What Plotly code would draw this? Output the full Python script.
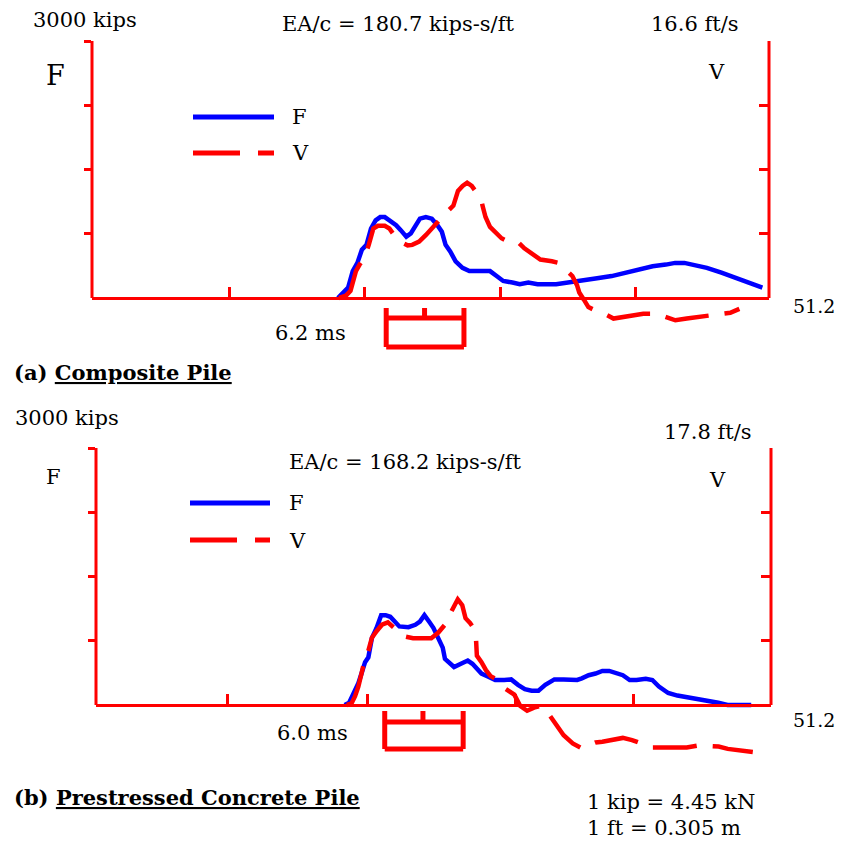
import plotly.graph_objects as go

# ---- data ----
T_END = 51.2          # ms, full time window
F_MAX = 3000          # kips, top of force scale
EAC_A = 180.7         # kips-s/ft
EAC_B = 168.2
V_MAX_A = 16.6        # ft/s, top of velocity scale
V_MAX_B = 17.8

# (a) Composite pile - force (kips)
F_A_MS = [18.6, 18.85, 19.37, 19.72, 20.07, 20.41, 20.76, 21.1, 21.45, 21.8, 22.14, 22.49, 23.0,
          23.35, 23.77, 24.11, 24.46, 24.8, 25.25, 25.7, 26.12, 26.46, 26.74, 27.09, 27.5, 28.02,
          28.54, 30.1, 30.6, 31.1, 31.8, 32.35, 33.0, 33.7, 35.1, 36.15, 37.2, 38.2, 39.3, 40.3,
          41.3, 42.4, 43.4, 44.1, 44.8, 45.5, 46.5, 47.6, 48.3, 49.1, 50.0, 50.7]
F_A_KIPS = [0, 46, 122, 314, 410, 563, 620, 811, 907, 945, 945, 907, 850, 792, 716, 754, 850,
            926, 945, 926, 850, 773, 620, 543, 429, 352, 314, 314, 256, 199, 180, 161, 180, 161,
            161, 180, 199, 230, 256, 295, 333, 371, 390, 410, 410, 390, 352, 295, 256, 199, 161, 122]

# (a) Composite pile - velocity (ft/s)
V_A_MS = [18.68, 19.2, 19.55, 19.79, 19.96, 20.24, 20.59, 20.93, 21.28, 21.63, 22.14, 22.49,
          22.84, 23.01, 23.53, 23.87, 24.22, 24.74, 25.26, 25.78, 26.3, 26.82, 27.33, 27.68,
          28.03, 28.37, 28.72, 29.06, 29.41, 29.58, 29.76, 30.1, 30.45, 30.97, 31.49, 32.18,
          32.7, 33.39, 33.91, 34.78, 35.29, 35.81, 36.33, 36.68, 36.85, 37.2, 37.54, 38.06,
          38.75, 39.44, 40.31, 41.0, 41.69, 42.73, 43.42, 44.12, 44.98, 45.85, 46.88, 47.58,
          48.27, 48.96]
V_A_FTS = [0, 0.15, 0.46, 1.10, 1.74, 2.16, 2.58, 3.43, 4.49, 4.66, 4.66, 4.49, 4.07, 3.86,
           3.54, 3.40, 3.43, 3.64, 4.07, 4.59, 5.12, 5.55, 5.97, 6.92, 7.24, 7.45, 7.24, 6.82,
           6.40, 5.81, 5.23, 4.59, 4.28, 3.86, 3.64, 3.64, 3.21, 2.79, 2.48, 2.37, 2.27, 1.84,
           1.42, 0.83, 0.36, -0.11, -0.59, -0.80, -1.02, -1.33, -1.25, -1.12, -1.02, -1.02,
           -1.23, -1.44, -1.33, -1.23, -1.12, -1.08, -0.95, -0.70]

# (b) Prestressed concrete pile - force (kips)
F_B_MS = [18.86, 19.2, 19.55, 19.9, 20.14, 20.41, 20.66, 20.93, 21.28, 21.63, 21.97, 22.32,
          22.66, 23.01, 23.7, 24.22, 24.57, 24.91, 25.26, 25.6, 25.95, 26.3, 26.47, 26.82,
          27.16, 27.68, 28.2, 28.55, 28.89, 29.24, 29.76, 30.28, 30.97, 31.49, 32.01, 32.53,
          33.04, 33.56, 34.08, 34.77, 35.47, 36.5, 36.85, 37.37, 37.89, 38.41, 38.93, 39.44,
          39.96, 40.48, 41.0, 41.7, 42.2, 42.7, 43.4, 44.1, 45.2, 46.2, 47.2, 47.9, 49.7]
F_B_KIPS = [0, 27, 140, 254, 367, 500, 557, 784, 898, 1049, 1049, 1030, 974, 917, 909, 936,
            974, 1049, 974, 898, 784, 670, 538, 481, 443, 481, 519, 481, 424, 367, 330, 292,
            292, 299, 235, 186, 167, 167, 235, 299, 299, 292, 311, 348, 367, 398, 398, 375,
            348, 292, 292, 307, 292, 216, 140, 110, 83, 64, 27, 0, 0]

# (b) Prestressed concrete pile - velocity (ft/s)
V_B_MS = [19.03, 19.38, 19.65, 19.9, 20.14, 20.31, 20.66, 20.93, 21.28, 21.69, 22.14, 22.49,
          22.84, 23.36, 24.05, 25.43, 25.95, 26.47, 26.75, 27.09, 27.44, 27.78, 28.03, 28.37,
          28.72, 28.82, 28.89, 29.24, 29.58, 29.93, 30.45, 30.97, 31.31, 31.73, 32.18, 32.7,
          33.22, 33.74, 34.08, 34.43, 34.77, 35.12, 35.47, 36.16, 36.85, 37.37, 37.89, 38.41,
          39.27, 39.96, 40.66, 41.35, 42.21, 43.25, 44.12, 44.81, 45.67, 46.54, 47.23, 47.92,
          48.96, 49.82]
V_B_FTS = [0, 0.11, 0.61, 1.28, 2.18, 2.86, 3.76, 4.66, 5.11, 5.56, 5.72, 5.45, 5.11, 4.76,
           4.62, 4.62, 5.0, 5.56, 6.12, 6.72, 7.32, 6.91, 6.01, 5.68, 5.23, 4.66, 3.42, 2.97,
           2.41, 2.0, 1.74, 1.17, 0.95, 0.72, -0.07, -0.40, -0.18, -0.07, -0.29, -0.74, -1.08,
           -1.61, -2.09, -2.66, -3.0, -2.77, -2.59, -2.54, -2.41, -2.28, -2.43, -2.66, -2.95,
           -2.95, -2.95, -2.95, -2.81, -2.81, -2.88, -3.04, -3.15, -3.26]

F_TICKS = [750, 1500, 2250, 3000]
T_TICKS_A = [10.4, 20.6, 30.9, 41.1]
T_TICKS_B = [10.0, 20.6, 31.8, 40.8]
SCALE_BAR_A = [22.25, 25.15, 28.13]   # ms (left, middle, right)
SCALE_BAR_B = [21.9, 24.8, 27.85]

# ---- styling ----
W, H = 841, 856
RED = "#FF0000"
BLUE = "#0000FF"
FONT = "DejaVu Serif"


def pxx(x):
    return x / W


def pxy(y):
    return 1 - y / H


panels = [
    dict(fx=F_A_MS, fy=F_A_KIPS, vx=V_A_MS, vy=V_A_FTS, vmax=V_MAX_A, tticks=T_TICKS_A,
         bar=SCALE_BAR_A, bar_y=(308, 318, 347),
         left=92, right=769, top=41, zero=298, bottom=352,
         xa="x", yf="y", yv="y2", leg=(193, 274, 117, 153)),
    dict(fx=F_B_MS, fy=F_B_KIPS, vx=V_B_MS, vy=V_B_FTS, vmax=V_MAX_B, tticks=T_TICKS_B,
         bar=SCALE_BAR_B, bar_y=(711, 722, 749),
         left=96, right=771, top=448, zero=705, bottom=762,
         xa="x2", yf="y3", yv="y4", leg=(190, 270, 503, 540)),
]

fig = go.Figure()
shapes = []
layout_axes = {}

for p in panels:
    fig.add_trace(go.Scatter(x=p["fx"], y=p["fy"], mode="lines", name="F",
                             line=dict(color=BLUE, width=4.5), xaxis=p["xa"], yaxis=p["yf"],
                             showlegend=False))
    fig.add_trace(go.Scatter(x=p["vx"], y=p["vy"], mode="lines", name="V",
                             line=dict(color=RED, width=4.5, dash="44px,16px"),
                             xaxis=p["xa"], yaxis=p["yv"], showlegend=False))

    kpp = F_MAX / (p["zero"] - p["top"])
    f_range = [-(p["bottom"] - p["zero"]) * kpp, F_MAX]
    v_range = [f_range[0] * p["vmax"] / F_MAX, p["vmax"]]

    xkey = "xaxis" if p["xa"] == "x" else "xaxis2"
    layout_axes[xkey] = dict(
        domain=[pxx(p["left"]), pxx(p["right"])], range=[0, T_END],
        anchor="free", position=pxy(p["zero"]),
        showline=True, linecolor=RED, linewidth=3,
        ticks="inside", tickvals=p["tticks"], ticklen=10, tickwidth=3, tickcolor=RED,
        showticklabels=False, showgrid=False, zeroline=False)
    yfkey = "yaxis" if p["yf"] == "y" else "yaxis3"
    layout_axes[yfkey] = dict(
        domain=[pxy(p["bottom"]), pxy(p["top"])], range=f_range, anchor=p["xa"],
        ticks="outside", tickvals=F_TICKS, ticklen=7, tickwidth=3, tickcolor=RED,
        showticklabels=False, showgrid=False, zeroline=False, showline=False)
    yvkey = "yaxis2" if p["yv"] == "y2" else "yaxis4"
    layout_axes[yvkey] = dict(
        overlaying=p["yf"], side="right", anchor=p["xa"], range=v_range,
        ticks="inside", tickvals=[p["vmax"] * k / 4 for k in range(1, 5)],
        ticklen=10, tickwidth=3, tickcolor=RED,
        showticklabels=False, showgrid=False, zeroline=False, showline=False)

    # left and right axis lines (only from zero up to full scale)
    for xp in (p["left"], p["right"]):
        shapes.append(dict(type="line", xref="paper", yref="paper",
                           x0=pxx(xp), x1=pxx(xp), y0=pxy(p["zero"]), y1=pxy(p["top"]),
                           line=dict(color=RED, width=3)))

    # time scale bar
    b0, bm, b1 = p["bar"]
    yt, ym, yb = (pxy(v) for v in p["bar_y"])
    bar_lines = [(b0, b0, yt, yb), (b1, b1, yt, yb), (bm, bm, yt, ym),
                 (b0, b1, ym, ym), (b0, b1, yb, yb)]
    for x0, x1, y0, y1 in bar_lines:
        shapes.append(dict(type="line", xref=p["xa"], yref="paper",
                           x0=x0, x1=x1, y0=y0, y1=y1, line=dict(color=RED, width=5)))

    # legend samples
    l0, l1, ly_f, ly_v = p["leg"]
    shapes.append(dict(type="line", xref="paper", yref="paper", x0=pxx(l0), x1=pxx(l1),
                       y0=pxy(ly_f), y1=pxy(ly_f), line=dict(color=BLUE, width=5)))
    shapes.append(dict(type="line", xref="paper", yref="paper", x0=pxx(l0), x1=pxx(l1),
                       y0=pxy(ly_v), y1=pxy(ly_v), line=dict(color=RED, width=5, dash="47px,18px")))


def ann(text, x, y, size=21, xanchor="center"):
    return dict(text=text, x=pxx(x), y=pxy(y), xref="paper", yref="paper",
                xanchor=xanchor, yanchor="middle", showarrow=False,
                font=dict(family=FONT, size=size, color="black"))


annotations = [
    # panel (a)
    ann("3000 kips", 85, 20),
    ann(f"EA/c = {EAC_A} kips-s/ft", 398, 24),
    ann(f"{V_MAX_A} ft/s", 695, 24),
    ann("F", 55, 76, size=27),
    ann("V", 716, 72),
    ann("F", 290, 117, xanchor="left"),
    ann("V", 290, 153, xanchor="left"),
    ann(f"{T_END}", 837, 306, size=19, xanchor="right"),
    ann("6.2 ms", 310, 333),
    ann("<b>(a) <u>Composite Pile</u></b>", 12, 372, size=21, xanchor="left"),
    # panel (b)
    ann("3000 kips", 67, 418),
    ann(f"{V_MAX_B} ft/s", 708, 432),
    ann(f"EA/c = {EAC_B} kips-s/ft", 405, 462),
    ann("F", 53, 477),
    ann("V", 717, 480),
    ann("F", 287, 503, xanchor="left"),
    ann("V", 287, 541, xanchor="left"),
    ann(f"{T_END}", 837, 720, size=19, xanchor="right"),
    ann("6.0 ms", 312, 733),
    ann("<b>(b) <u>Prestressed Concrete Pile</u></b>", 12, 797, size=21, xanchor="left"),
    ann("1 kip = 4.45 kN", 585, 802, xanchor="left"),
    ann("1 ft = 0.305 m", 585, 828, xanchor="left"),
]

fig.update_layout(
    width=W, height=H,
    margin=dict(l=0, r=0, t=0, b=0),
    paper_bgcolor="white",
    plot_bgcolor="white",
    showlegend=False,
    shapes=shapes,
    annotations=annotations,
    **layout_axes,
)

# the page body has a default 8px margin; drop it so the figure fills the window
fig.write_html("out.html", config={"displayModeBar": False},
               post_script="document.body.style.margin = '0';")
